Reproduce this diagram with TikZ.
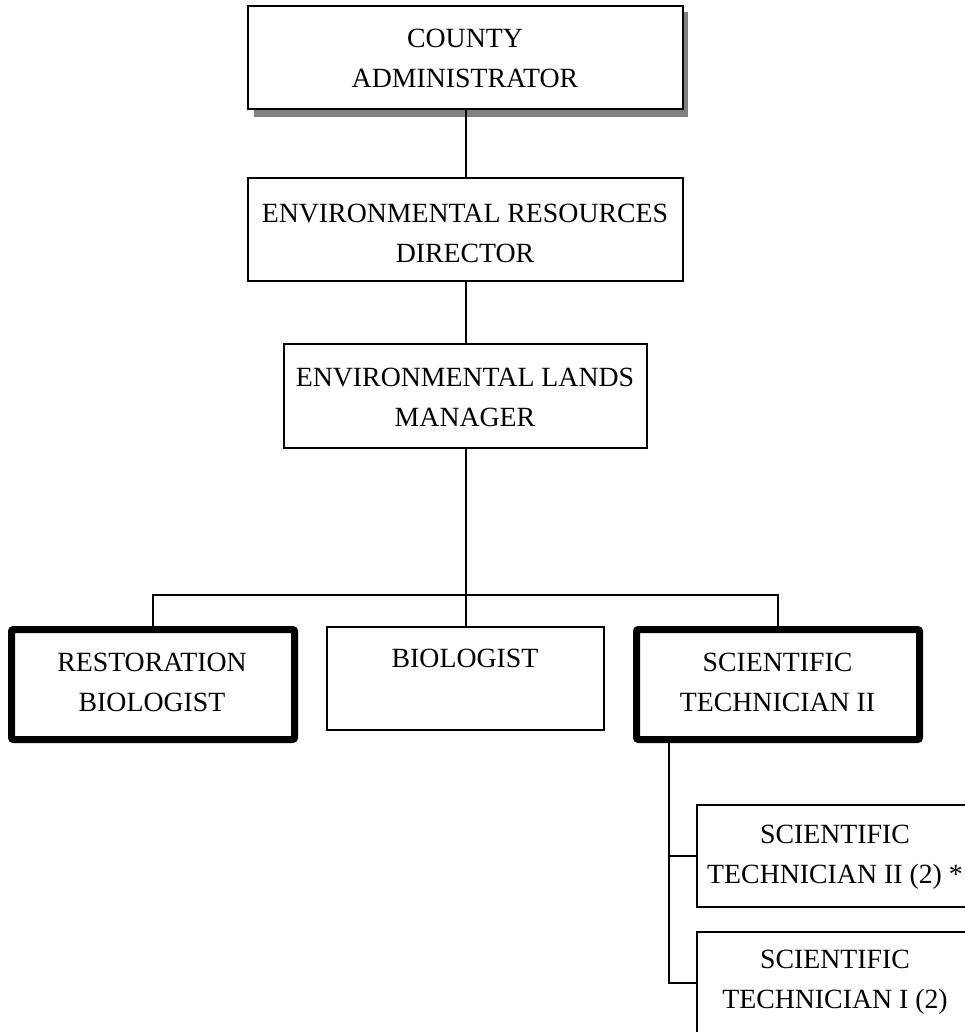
\documentclass[tikz,border=0pt]{standalone}
\usepackage{fontspec}
\setmainfont{Liberation Serif}
\begin{document}
\begin{tikzpicture}[x=1pt,y=-1pt,
  box/.style={draw=black, line width=2pt, fill=white, inner sep=0pt, outer sep=0pt},
  heavybox/.style={draw=black, line width=7pt, fill=white, rounded corners=2pt, inner sep=0pt, outer sep=0pt},
  txt/.style={align=center, inner sep=0pt, font=\fontsize{27.8}{40}\selectfont},
  link/.style={draw=black, line width=2pt},
  shadow/.style={fill=black!50}]
\useasboundingbox (0,0) rectangle (965,1032);
\begin{scope}
\clip (0,0) rectangle (965,1032);

% top of the chart, with drop shadow
\fill[shadow] (254,12) rectangle (688,117);
\node[box, minimum width=435pt, minimum height=103pt] (ca) at (465.5,57.5) {};
\node[txt] (ca-t) at (465,58) {COUNTY\\ADMINISTRATOR};

\node[box, minimum width=435pt, minimum height=103pt] (erd) at (465.5,229.5) {};
\node[txt] (erd-t) at (465,233.5) {ENVIRONMENTAL RESOURCES\\DIRECTOR};

\node[box, minimum width=363pt, minimum height=104pt] (elm) at (465.5,396) {};
\node[txt] (elm-t) at (465,397.5) {ENVIRONMENTAL LANDS\\MANAGER};

% second level
\node[heavybox, minimum width=283pt, minimum height=110pt] (rb) at (153,684.5) {};
\node[txt] (rb-t) at (152,682.5) {RESTORATION\\BIOLOGIST};

\node[box, minimum width=277pt, minimum height=103pt] (bio) at (465.5,678.5) {};
\node[txt] (bio-t) at (465,658) {BIOLOGIST};

\node[heavybox, minimum width=283pt, minimum height=110pt] (st) at (778,684.5) {};
\node[txt] (st-t) at (777.5,682) {SCIENTIFIC\\TECHNICIAN II};

% staff under the scientific technician
\node[box, minimum width=278pt, minimum height=102pt] (st2) at (836,856) {};
\node[txt] (st2-t) at (835,857) {SCIENTIFIC\\TECHNICIAN II (2) *};

\node[box, minimum width=278pt, minimum height=102pt] (st1) at (836,983) {};
\node[txt] (st1-t) at (835,982) {SCIENTIFIC\\TECHNICIAN I (2)};

% connectors
\coordinate (bus) at (465.5,595);
\coordinate (trunk) at (669,743);
\draw[link] (ca.south) -- (erd.north);
\draw[link] (erd.south) -- (elm.north);
\draw[link] (elm.south) -- (bio.north);
\draw[link] (rb.north) |- (bus) -| (st.north);
\draw[link] (trunk) |- (st1.west);
\draw[link] (st2.west) -- (st2.west -| trunk);
\end{scope}
\end{tikzpicture}
\end{document}
